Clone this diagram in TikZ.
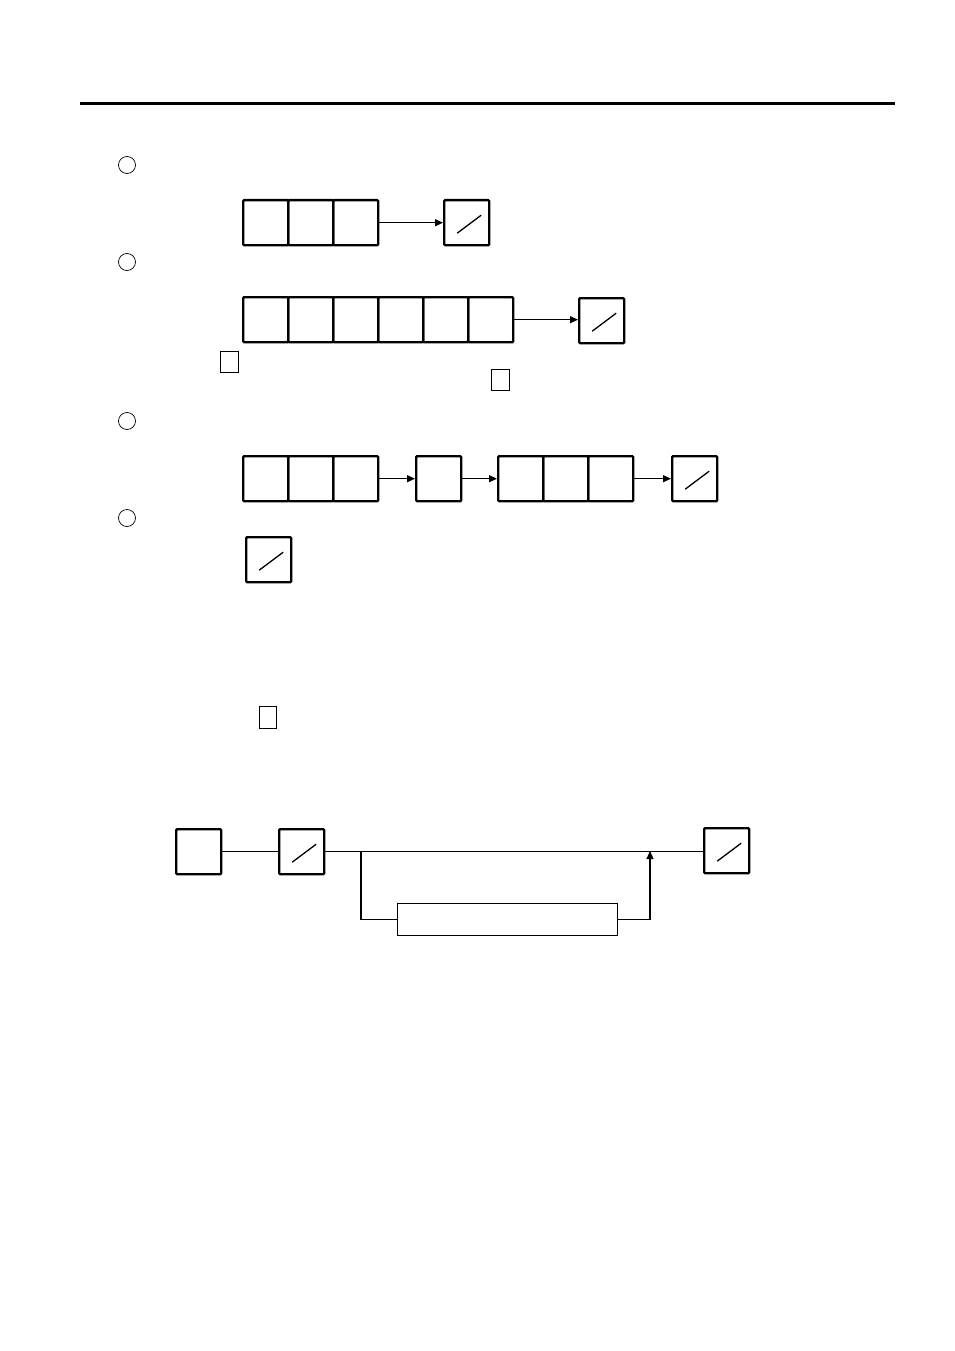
\documentclass[tikz,border=0pt]{standalone}
\usetikzlibrary{arrows.meta}
\begin{document}
\begin{tikzpicture}[x=1pt,y=-1pt,
  cell/.style={draw, line width=2.4pt, minimum width=45pt, minimum height=45pt, inner sep=0pt, rounded corners=1pt, anchor=north west},
  slashbox/.style={cell, path picture={\draw[line width=1.3pt] ([xshift=13pt,yshift=12pt]path picture bounding box.south west) -- ([xshift=-8pt,yshift=-15pt]path picture bounding box.north east);}},
  mark circle/.style={circle, draw, line width=0.7pt, minimum size=17pt, inner sep=0pt},
  smallsq/.style={draw, line width=1.3pt, minimum width=18pt, minimum height=21pt, inner sep=0pt, anchor=north west},
  conn/.style={line width=1.2pt},
  arr/.style={conn, -{Triangle[length=8pt,width=7pt]}}]
\useasboundingbox (0,0) rectangle (954,1351);
% top rule
\coordinate (r1) at (80,104);
\coordinate (r2) at (895,104);
\draw[line width=3pt] (r1) -- (r2);
% circles
\node[mark circle] (c1) at (127,165) {};
\node[mark circle] (c2) at (127,262) {};
\node[mark circle] (c3) at (127,421) {};
\node[mark circle] (c4) at (127,518) {};
% row 1
\node[cell] (a1) at (242,199) {};
\node[cell] (a2) at (287,199) {};
\node[cell] (a3) at (332,199) {};
\node[slashbox] (as) at (443,199) {};
\draw[arr] (a3.east) -- (as.west);
% row 2
\node[cell] (b1) at (242,296) {};
\node[cell] (b2) at (287,296) {};
\node[cell] (b3) at (332,296) {};
\node[cell] (b4) at (377,296) {};
\node[cell] (b5) at (422,296) {};
\node[cell] (b6) at (467,296) {};
\node[slashbox] (bs) at (578,297) {};
\draw[arr] (b6.east) -- (b6.east -| bs.west);
\node[smallsq] (sq1) at (220,351) {};
\node[smallsq] (sq2) at (491,369) {};
% row 3
\node[cell] (d1) at (242,455) {};
\node[cell] (d2) at (287,455) {};
\node[cell] (d3) at (332,455) {};
\node[cell] (e1) at (415,455) {};
\node[cell] (f1) at (497,455) {};
\node[cell] (f2) at (542,455) {};
\node[cell] (f3) at (587,455) {};
\node[slashbox] (fs) at (671,455) {};
\draw[arr] (d3.east) -- (e1.west);
\draw[arr] (e1.east) -- (f1.west);
\draw[arr] (f3.east) -- (fs.west);
% row 4
\node[slashbox] (gs) at (245,536) {};
% small square
\node[smallsq, minimum width=17pt, minimum height=22pt] (sq3) at (259,706) {};
% bottom diagram
\node[cell] (hA) at (175,828) {};
\node[slashbox] (hB) at (278,828) {};
\node[slashbox] (hC) at (703,827) {};
\node[draw, line width=1.2pt, minimum width=220pt, minimum height=32pt, inner sep=0pt, anchor=north west] (hL) at (397,903) {};
\coordinate (j1) at (361,851);
\coordinate (j2) at (650,851);
\draw[conn] (hA.east) -- (hA.east -| hB.west);
\draw[conn] (hB.east) -- (hB.east -| hC.west);
\draw[conn] (j1) |- (hL.west);
\draw[arr] (hL.east) -| (j2);
\end{tikzpicture}
\end{document}
